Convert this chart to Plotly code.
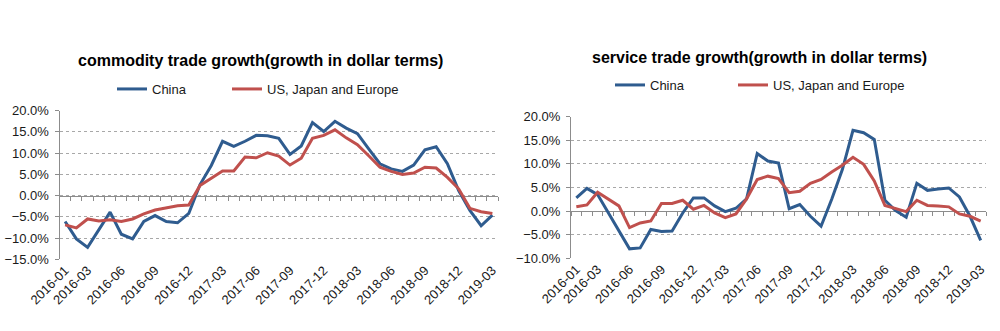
import plotly.graph_objects as go

# Monthly categories, 2016-01 .. 2019-03
months = [
    "2016-01", "2016-02", "2016-03", "2016-04", "2016-05", "2016-06",
    "2016-07", "2016-08", "2016-09", "2016-10", "2016-11", "2016-12",
    "2017-01", "2017-02", "2017-03", "2017-04", "2017-05", "2017-06",
    "2017-07", "2017-08", "2017-09", "2017-10", "2017-11", "2017-12",
    "2018-01", "2018-02", "2018-03", "2018-04", "2018-05", "2018-06",
    "2018-07", "2018-08", "2018-09", "2018-10", "2018-11", "2018-12",
    "2019-01", "2019-02", "2019-03",
]
tick_months = [
    "2016-01", "2016-03", "2016-06", "2016-09", "2016-12", "2017-03",
    "2017-06", "2017-09", "2017-12", "2018-03", "2018-06", "2018-09",
    "2018-12", "2019-03",
]

# Commodity trade growth, % (dollar terms)
goods_china = [
    -6.1, -10.2, -12.2, -8.1, -3.9, -9.1, -10.2, -6.1, -4.7, -6.1,
    -6.4, -4.2, 2.6, 7.1, 12.8, 11.6, 12.8, 14.2, 14.1, 13.5,
    9.7, 11.7, 17.2, 15.1, 17.5, 15.9, 14.6, 11.0, 7.5, 6.3,
    5.7, 7.2, 10.8, 11.5, 7.5, 1.2, -3.5, -7.1, -4.6,
]
goods_usjpeu = [
    -6.9, -7.6, -5.5, -6.0, -5.7, -6.1, -5.5, -4.3, -3.4, -2.9,
    -2.4, -2.2, 2.4, 4.1, 5.8, 5.8, 9.1, 8.9, 10.1, 9.3,
    7.2, 8.8, 13.5, 14.2, 15.5, 13.6, 12.0, 9.4, 6.7, 5.7,
    5.0, 5.3, 6.7, 6.5, 4.3, 1.6, -3.0, -3.8, -4.2,
]

# Service trade growth, % (dollar terms)
service_china = [
    2.8, 4.8, 3.5, -0.3, -4.1, -8.0, -7.8, -3.9, -4.3, -4.2,
    -0.4, 2.8, 2.8, 1.1, -0.1, 0.6, 2.6, 12.2, 10.6, 10.2,
    0.5, 1.4, -1.1, -3.2, 2.5, 8.8, 17.1, 16.6, 15.2, 2.3,
    0.1, -1.3, 5.9, 4.4, 4.7, 4.9, 3.0, -1.1, -6.2,
]
service_usjpeu = [
    0.9, 1.3, 4.0, 2.6, 1.1, -3.5, -2.5, -2.1, 1.6, 1.6,
    2.3, 0.4, 1.2, -0.4, -1.4, -0.6, 2.6, 6.7, 7.4, 6.9,
    3.9, 4.2, 5.9, 6.7, 8.3, 9.7, 11.4, 9.9, 6.4, 1.2,
    0.5, -0.1, 2.3, 1.2, 1.1, 0.9, -0.6, -1.1, -2.1,
]

series_names = ["China", "US, Japan and Europe"]
titles = [
    "commodity trade growth(growth in dollar terms)",
    "service trade growth(growth in dollar terms)",
]

BLUE = "#2f5c8f"
RED = "#c0504d"
GRID = "#a8a8a8"
AXIS = "#8c8c8c"
TEXT = "#1a1a1a"
FONT = "Liberation Sans, Arial, sans-serif"

W, H = 1000, 331


def px_x(v):
    return v / W


def px_y(v):
    return 1 - v / H


panels = [
    dict(
        n=1, zero_n=3, legends=("legend", "legend2"),
        dom_x=[px_x(59.5), px_x(498)], dom_y=[px_y(259.3), px_y(110.7)],
        yrange=[-15, 20], data=(goods_china, goods_usjpeu),
        title_xy=(260, 60), legend_xy=((112, 89), (227, 89)),
    ),
    dict(
        n=2, zero_n=4, legends=("legend3", "legend4"),
        dom_x=[px_x(571), px_x(986)], dom_y=[px_y(258.3), px_y(116.7)],
        yrange=[-10, 20], data=(service_china, service_usjpeu),
        title_xy=(759, 58), legend_xy=((610, 85), (733, 85)),
    ),
]

fig = go.Figure()
layout = dict(
    width=W, height=H,
    margin=dict(l=0, r=0, t=0, b=0, autoexpand=False),
    paper_bgcolor="white", plot_bgcolor="white",
    font=dict(family=FONT, size=13, color=TEXT),
    annotations=[],
)

for p, title in zip(panels, titles):
    n, zn = p["n"], p["zero_n"]
    xs = "" if n == 1 else str(n)
    xname, yname, zname = "x" + xs, "y" + xs, "x" + str(zn)

    for vals, color, name, leg in zip(p["data"], (BLUE, RED), series_names, p["legends"]):
        fig.add_trace(go.Scatter(
            x=months, y=vals, xaxis=xname, yaxis=yname, mode="lines",
            name=name, legend=leg,
            line=dict(color=color, width=3),
        ))

    # carrier trace for the value-zero category axis
    fig.add_trace(go.Scatter(
        x=months, y=[0] * len(months), xaxis=zname, yaxis=yname,
        mode="lines", line=dict(width=0, color="rgba(0,0,0,0)"),
        showlegend=False, hoverinfo="skip",
    ))

    y0, y1 = p["dom_y"]
    lo, hi = p["yrange"]
    zero_pos = y0 + (0 - lo) / (hi - lo) * (y1 - y0)

    layout["xaxis" + xs] = dict(
        domain=p["dom_x"], anchor=yname, type="category",
        categoryorder="array", categoryarray=months,
        range=[-0.5, len(months) - 0.5],
        tickmode="array", tickvals=tick_months, ticktext=tick_months,
        tickangle=-45, ticks="", showline=False, showgrid=False,
        zeroline=False, automargin=False,
        tickfont=dict(size=13, color=TEXT),
    )
    layout["xaxis" + str(zn)] = dict(
        domain=p["dom_x"], overlaying=xname, anchor="free", position=zero_pos,
        type="category", categoryorder="array", categoryarray=months,
        range=[-0.5, len(months) - 0.5],
        tickmode="linear", tick0=0, dtick=1, tickson="boundaries",
        ticks="outside", ticklen=4, tickcolor=AXIS, tickwidth=1,
        showticklabels=False, showline=True, linecolor=AXIS, linewidth=1,
        showgrid=False, zeroline=False, layer="below traces",
        automargin=False,
    )
    layout["yaxis" + xs] = dict(
        domain=p["dom_y"], anchor=xname, range=p["yrange"],
        tickmode="linear", tick0=0, dtick=5,
        tickformat=".1f", ticksuffix="%",
        showgrid=True, gridcolor=GRID, griddash="dot", gridwidth=1,
        showline=True, linecolor=AXIS, linewidth=1,
        ticks="outside", ticklen=4, tickcolor=AXIS, ticklabelstandoff=3,
        zeroline=False, automargin=False,
        tickfont=dict(size=13, color=TEXT),
        layer="below traces",
    )

    tx, ty = p["title_xy"]
    layout["annotations"].append(dict(
        text="<b>" + title + "</b>", x=px_x(tx), y=px_y(ty),
        xref="paper", yref="paper", xanchor="center", yanchor="middle",
        showarrow=False, font=dict(size=16, color="#000000", family=FONT),
    ))

    for leg, (lx, ly) in zip(p["legends"], p["legend_xy"]):
        layout[leg] = dict(
            x=px_x(lx), y=px_y(ly), xref="container", yref="container",
            xanchor="left", yanchor="middle",
            orientation="h", bgcolor="rgba(0,0,0,0)", borderwidth=0,
            itemwidth=30, font=dict(size=13, color=TEXT, family=FONT),
        )

fig.update_layout(**layout)
fig.write_html("out.html")
